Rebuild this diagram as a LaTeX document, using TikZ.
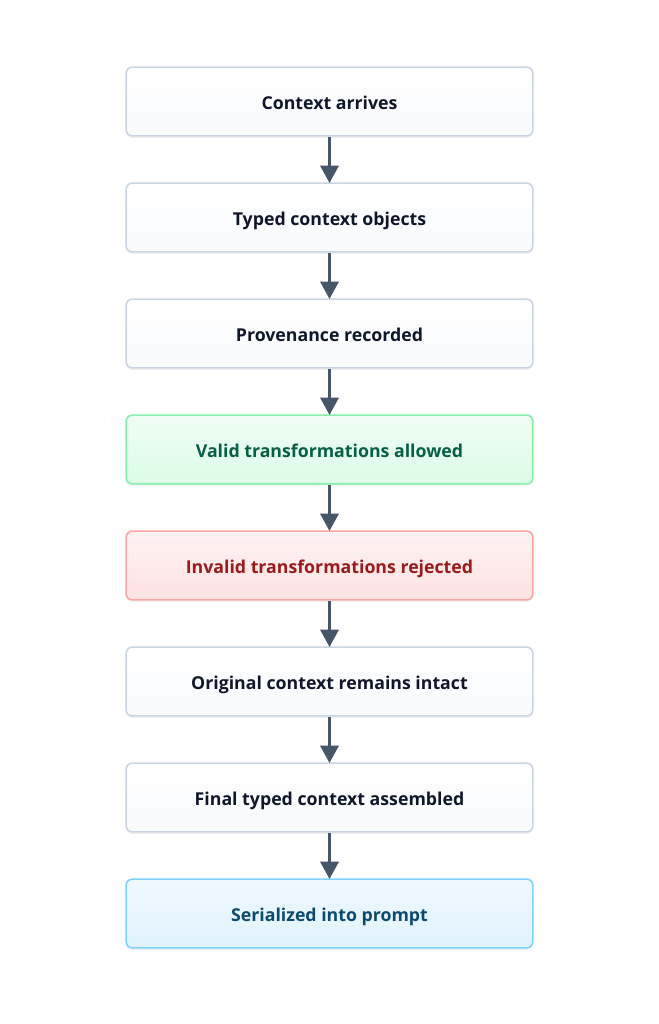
\documentclass[tikz,border=0pt]{standalone}
\usepackage{fontspec}
\setmainfont{Open Sans}
\usetikzlibrary{arrows.meta,shadows}
\definecolor{nfill}{HTML}{F8FAFC}
\definecolor{ndraw}{HTML}{CBD5E1}
\definecolor{ntext}{HTML}{0F172A}
\definecolor{gfill}{HTML}{F0FDF4}
\definecolor{gfillb}{HTML}{DCFCE7}
\definecolor{gdraw}{HTML}{86EFAC}
\definecolor{gtext}{HTML}{065F46}
\definecolor{rfill}{HTML}{FEF2F2}
\definecolor{rfillb}{HTML}{FEE2E2}
\definecolor{rdraw}{HTML}{FCA5A5}
\definecolor{rtext}{HTML}{991B1B}
\definecolor{bfill}{HTML}{F0F9FF}
\definecolor{bfillb}{HTML}{E0F2FE}
\definecolor{bdraw}{HTML}{7DD3FC}
\definecolor{btext}{HTML}{0C4A6E}
\definecolor{arr}{HTML}{475569}
\tikzset{
  px/.style={x=0.75pt,y=-0.75pt},
  stepbox/.style={rounded corners=4.5pt, minimum width=305pt, minimum height=51.5pt,
    line width=1.2pt, font=\fontsize{13.3}{15}\selectfont\bfseries, inner sep=0pt,
    text depth=0pt, text height=11.5pt,
    drop shadow={shadow xshift=0pt,shadow yshift=-1.5pt,opacity=0.06,fill=black}},
  neutral/.style={stepbox, draw=ndraw, top color=white, bottom color=nfill, text=ntext},
  good/.style={stepbox, draw=gdraw, top color=gfill, bottom color=gfillb, text=gtext},
  bad/.style={stepbox, draw=rdraw, top color=rfill, bottom color=rfillb, text=rtext},
  final/.style={stepbox, draw=bdraw, top color=bfill, bottom color=bfillb, text=btext},
  flow/.style={draw=arr, line width=2.4pt, -{Triangle[length=13pt,width=13.5pt]}, shorten >=-0.5pt}
}
\begin{document}
\begin{tikzpicture}[px]
\useasboundingbox[fill=white] (0,0) rectangle (658,1024);
\node[neutral] (n1) at (329.5,101.5) {Context arrives};
\node[neutral] (n2) at (329.5,217.5) {Typed context objects};
\node[neutral] (n3) at (329.5,333.5) {Provenance recorded};
\node[good]    (n4) at (329.5,449.5) {Valid transformations allowed};
\node[bad]     (n5) at (329.5,565.5) {Invalid transformations rejected};
\node[neutral] (n6) at (329.5,681.5) {Original context remains intact};
\node[neutral] (n7) at (329.5,797.5) {Final typed context assembled};
\node[final]   (n8) at (329.5,913.5) {Serialized into prompt};
\foreach \a/\b in {n1/n2,n2/n3,n3/n4,n4/n5,n5/n6,n6/n7,n7/n8}
  \draw[flow] (\a.south) -- (\b.north);
\end{tikzpicture}
\end{document}
